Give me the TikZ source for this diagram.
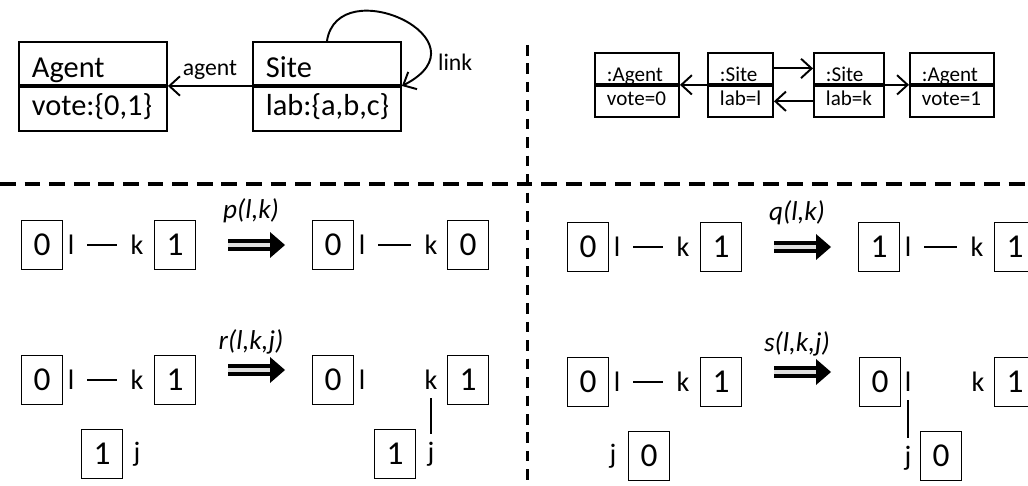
\documentclass[tikz,border=0pt]{standalone}
\usepackage{fontspec}
\setmainfont{Carlito}
\usepackage{tikz}
\usetikzlibrary{positioning,arrows.meta}

\tikzset{
  clshead/.style={draw, line width=1.1pt, font=\fontsize{17.3}{19}\selectfont,
    text width=2.44cm, inner xsep=0.26cm, inner ysep=1pt, align=left,
    text height=19.5pt, text depth=3pt},
  clsbody/.style={clshead, text height=15pt, text depth=8pt},
  objhead/.style={draw, line width=1.1pt, font=\fontsize{12}{13}\selectfont,
    text width=#1, inner xsep=0.24cm, inner ysep=1pt, align=left,
    text height=15pt, text depth=0.6pt},
  objbody/.style={objhead=#1, text height=10.4pt, text depth=5.2pt},
  assoc/.style={line width=1.1pt, -{Straight Barb[length=6pt,width=11pt]}},
  lbl/.style={font=\fontsize{13.5}{15}\selectfont, inner sep=1pt},
  hdivider/.style={line width=1.9pt, dash pattern=on 9pt off 5pt},
  vdivider/.style={line width=1.7pt, dash pattern=on 6pt off 4.5pt},
  numbox/.style={draw, line width=0.6pt, minimum width=0.82cm, minimum height=0.98cm,
    inner sep=0pt, font=\fontsize{19}{21}\selectfont},
  sitelbl/.style={font=\fontsize{16}{18}\selectfont, inner sep=1pt},
  bond/.style={line width=1pt, shorten <=6.3pt, shorten >=6.8pt},
  vbond/.style={line width=1.2pt, shorten <=3.5pt, shorten >=3.5pt},
  rulelbl/.style={font=\fontsize{15.5}{17}\itshape},
  fatshaft/.style={line width=2.4pt, double=gray!25, double distance=2.4pt}
}

\begin{document}
\begin{tikzpicture}[x=0.2mm, y=-0.2mm]
\useasboundingbox (0,0) rectangle (1028,486);
\clip (0,0) rectangle (1028,486);

% Class diagram: Agent and Site
\node[clshead, anchor=north west] (agent) at (18,41) {Agent};
\node[clsbody, below=0pt of agent] (agentvote) {vote:\{0,1\}};
\node[clshead, anchor=north west] (site) at (252,41) {Site};
\node[clsbody, below=0pt of site] (sitelab) {lab:\{a,b,c\}};
\draw[assoc] (site.south west) -- (agent.south east) node[midway, above=2pt, lbl] {agent};
\draw[assoc] (site.north) .. controls (338,-30) and (492,40) .. (site.south east);
\node[lbl, anchor=west] (linklbl) at (436,62) {link};

% Object diagram
\node[objhead=1.2cm, anchor=north west] (ag0) at (594,52) {:Agent};
\node[objbody=1.2cm, below=0pt of ag0] (ag0v) {vote=0};
\node[objhead=0.82cm, anchor=north west] (st1) at (707,52) {:Site};
\node[objbody=0.82cm, below=0pt of st1] (st1l) {lab=l};
\node[objhead=0.92cm, anchor=north west] (st2) at (813,52) {:Site};
\node[objbody=0.92cm, below=0pt of st2] (st2l) {lab=k};
\node[objhead=1.2cm, anchor=north west] (ag1) at (909,52) {:Agent};
\node[objbody=1.2cm, below=0pt of ag1] (ag1v) {vote=1};
\draw[assoc] (st1.south west) -- (ag0.south east);
\draw[assoc] (st1.east) -- (st2.west);
\draw[assoc] (st2l.west) -- (st1l.east);
\draw[assoc] (st2.south east) -- (ag1.south west);

% Dividers
\draw[hdivider] (0,184) -- (1028,184);
\draw[vdivider] (527,45) -- (527,486);

% Rule p(l,k)
\begin{scope}
\node[numbox] (p0) at (42,245) {0};
\node[sitelbl] (pl) at (71,245) {l};
\node[sitelbl] (pk) at (137,245) {k};
\node[numbox] (p1) at (175,245) {1};
\draw[bond] (pl) -- (pk);
\node[rulelbl] (plbl) at (251,211) {p(l,k)};
\coordinate (ps) at (228,245); \coordinate (pb) at (270,245); \coordinate (pe) at (285,245);
\draw[fatshaft] (ps) -- (pb);
\fill (pe) -- ++(-15,-13) -- ++(0,26) -- cycle;
\node[numbox] (p0r) at (333,245) {0};
\node[sitelbl] (plr) at (362,245) {l};
\node[sitelbl] (pkr) at (431,245) {k};
\node[numbox] (p1r) at (468,245) {0};
\draw[bond] (plr) -- (pkr);
\end{scope}

% Rule q(l,k)
\begin{scope}[shift={(546,2)}]
\node[numbox] (q0) at (42,245) {0};
\node[sitelbl] (ql) at (71,245) {l};
\node[sitelbl] (qk) at (137,245) {k};
\node[numbox] (q1) at (175,245) {1};
\draw[bond] (ql) -- (qk);
\node[rulelbl] (qlbl) at (251,211) {q(l,k)};
\coordinate (qs) at (228,245); \coordinate (qb) at (270,245); \coordinate (qe) at (285,245);
\draw[fatshaft] (qs) -- (qb);
\fill (qe) -- ++(-15,-13) -- ++(0,26) -- cycle;
\node[numbox] (q0r) at (333,245) {1};
\node[sitelbl] (qlr) at (362,245) {l};
\node[sitelbl] (qkr) at (431,245) {k};
\node[numbox] (q1r) at (469,245) {1};
\draw[bond] (qlr) -- (qkr);
\end{scope}

% Rule r(l,k,j)
\begin{scope}
\node[numbox] (r0) at (42,380) {0};
\node[sitelbl] (rl) at (71,380) {l};
\node[sitelbl] (rk) at (137,380) {k};
\node[numbox] (r1) at (175,380) {1};
\draw[bond] (rl) -- (rk);
\node[numbox] (rj1) at (102,454) {1};
\node[sitelbl] (rj) at (137,454) {j};
\node[rulelbl] (rlbl) at (251,342) {r(l,k,j)};
\coordinate (rs) at (228,370); \coordinate (rb) at (270,370); \coordinate (re) at (285,370);
\draw[fatshaft] (rs) -- (rb);
\fill (re) -- ++(-15,-13) -- ++(0,26) -- cycle;
\node[numbox] (r0r) at (333,380) {0};
\node[sitelbl] (rlr) at (362,380) {l};
\node[sitelbl] (rkr) at (431,380) {k};
\node[numbox] (r1r) at (468,380) {1};
\node[numbox] (rj1r) at (395,454) {1};
\node[sitelbl] (rjr) at (431,454) {j};
\draw[vbond] (rkr) -- (rjr);
\end{scope}

% Rule s(l,k,j)
\begin{scope}[shift={(546,2)}]
\node[numbox] (s0) at (42,380) {0};
\node[sitelbl] (sl) at (71,380) {l};
\node[sitelbl] (sk) at (137,380) {k};
\node[numbox] (s1) at (175,380) {1};
\draw[bond] (sl) -- (sk);
\node[sitelbl] (sj) at (67,454) {j};
\node[numbox] (sj0) at (103,454) {0};
\node[rulelbl] (slbl) at (251,342) {s(l,k,j)};
\coordinate (ss) at (228,370); \coordinate (sb) at (270,370); \coordinate (se) at (285,370);
\draw[fatshaft] (ss) -- (sb);
\fill (se) -- ++(-15,-13) -- ++(0,26) -- cycle;
\node[numbox] (s0r) at (334,380) {0};
\node[sitelbl] (slr) at (362,380) {l};
\node[sitelbl] (skr) at (432,380) {k};
\node[numbox] (s1r) at (469,380) {1};
\node[sitelbl] (sjr) at (362,456) {j};
\node[numbox] (sj0r) at (395,454) {0};
\draw[vbond] (slr) -- (sjr);
\end{scope}
\end{tikzpicture}
\end{document}
